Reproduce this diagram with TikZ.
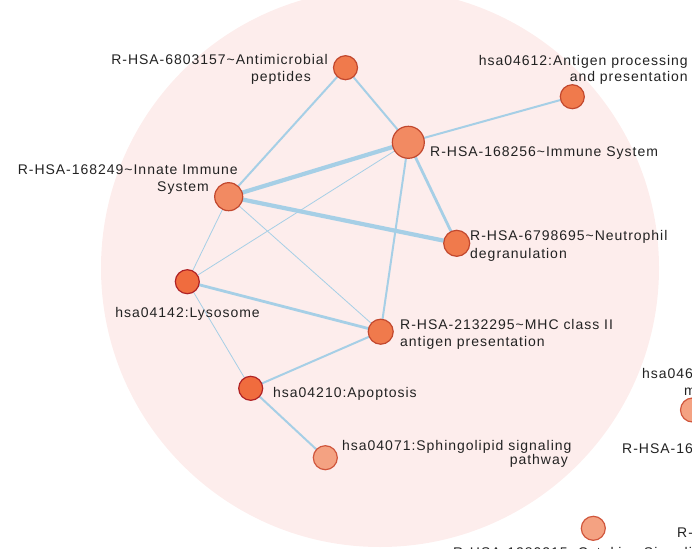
\documentclass[tikz,border=0pt]{standalone}
\usepackage{fontspec}
\setmainfont{Liberation Sans}[LetterSpace=7]
\pgfdeclarelayer{bg}
\pgfdeclarelayer{edges}
\pgfsetlayers{bg,edges,main}
\definecolor{bgpink}{HTML}{FDEDEC}
\definecolor{edgeblue}{HTML}{A6CFE6}
\definecolor{fillA}{HTML}{F07A4C}
\definecolor{fillB}{HTML}{F28A62}
\definecolor{fillC}{HTML}{F06C3E}
\definecolor{fillD}{HTML}{F4A282}
\definecolor{bordA}{HTML}{C2482E}
\definecolor{bordC}{HTML}{B02225}
\definecolor{bordD}{HTML}{D0563C}
\definecolor{txt}{HTML}{222222}
\begin{document}
\begin{tikzpicture}[x=1pt,y=-1pt,
  term/.style={circle,draw=bordA,fill=fillA,line width=1.2pt,inner sep=0pt,minimum size=24pt},
  hub/.style={term,fill=fillB,minimum size=32pt},
  innate/.style={term,fill=fillB,minimum size=28pt},
  dark/.style={term,fill=fillC,draw=bordC},
  light/.style={term,fill=fillD,draw=bordD},
  lab/.style={inner sep=0pt,text=txt,font=\fontsize{14}{17}\selectfont},
  thin/.style={draw=edgeblue,line width=0.8pt},
  mid/.style={draw=edgeblue,line width=2pt},
  midp/.style={draw=edgeblue,line width=2.8pt},
  thick/.style={draw=edgeblue,line width=4.2pt}]
\useasboundingbox (0,0) rectangle (692,548);
\begin{pgfonlayer}{bg}
\fill[bgpink] (380,268) circle[radius=279];
\end{pgfonlayer}
% nodes
\node[term]   (anti)  at (345.5,67.7) {};
\node[hub]    (imm)   at (408.3,142.3) {};
\node[innate] (inn)   at (228.7,196.7) {};
\node[term]   (ag)    at (572.3,96.7) {};
\node[term,minimum size=26pt] (neu) at (456.7,243.3) {};
\node[dark]   (lyso)  at (187.3,281.7) {};
\node[term,minimum size=25pt] (mhc) at (380.7,331.7) {};
\node[dark]   (apo)   at (250.7,388.3) {};
\node[light]  (sph)   at (325.3,457.7) {};
\node[light]  (br)    at (593.3,528.3) {};
\node[light]  (rt)    at (692.5,410) {};
% edges
\begin{pgfonlayer}{edges}
\draw[mid]  (anti.center) -- (imm.center);
\draw[mid]  (anti.center) -- (inn.center);
\draw[mid]  (imm.center) -- (ag.center);
\draw[thick] (imm.center) -- (inn.center);
\draw[midp] (imm.center) -- (neu.center);
\draw[mid]  (imm.center) -- (mhc.center);
\draw[thin] (imm.center) -- (lyso.center);
\draw[thick] (inn.center) -- (neu.center);
\draw[thin] (inn.center) -- (lyso.center);
\draw[thin] (inn.center) -- (mhc.center);
\draw[midp] (lyso.center) -- (mhc.center);
\draw[thin] (lyso.center) -- (apo.center);
\draw[mid]  (apo.center) -- (mhc.center);
\draw[mid]  (apo.center) -- (sph.center);
\end{pgfonlayer}
% labels
\node[lab,anchor=base east] (antiL1) at (328,65) {R-HSA-6803157\textasciitilde Antimicrobial};
\node[lab,anchor=base east] (antiL2) at (311,82) {peptides};
\node[lab,anchor=base east] (innL1) at (238,175) {R-HSA-168249\textasciitilde Innate Immune};
\node[lab,anchor=base east] (innL2) at (209,191) {System};
\node[lab,anchor=base west] (immL) at (430,157) {R-HSA-168256\textasciitilde Immune System};
\node[lab,anchor=base east] (agL1) at (688,66) {hsa04612:Antigen processing};
\node[lab,anchor=base east] (agL2) at (688,82) {and presentation};
\node[lab,anchor=base west] (neuL1) at (470,240) {R-HSA-6798695\textasciitilde Neutrophil};
\node[lab,anchor=base west] (neuL2) at (470,258) {degranulation};
\node[lab,anchor=base east] (lysoL) at (260,317) {hsa04142:Lysosome};
\node[lab,anchor=base west] (mhcL1) at (400,329) {R-HSA-2132295\textasciitilde MHC class II};
\node[lab,anchor=base west] (mhcL2) at (400,346) {antigen presentation};
\node[lab,anchor=base west] (apoL) at (273,397) {hsa04210:Apoptosis};
\node[lab,anchor=base west] (sphL1) at (342,450) {hsa04071:Sphingolipid signaling};
\node[lab,anchor=base east] (sphL2) at (568,464) {pathway};
\node[lab,anchor=base west] (rtL1) at (642,378) {hsa04650:Natural killer cell};
\node[lab,anchor=base west] (rtL2) at (684,395) {mediated cytotoxicity};
\node[lab,anchor=base west] (rtL3) at (622,453) {R-HSA-168898\textasciitilde Toll-like Receptor Cascades};
\node[lab,anchor=base west] (brL) at (677,537) {R-HSA-449147\textasciitilde Signaling by Interleukins};
\node[lab,anchor=base west] (btL) at (453,557) {R-HSA-1280215\textasciitilde Cytokine Signaling};
\end{tikzpicture}
\end{document}
